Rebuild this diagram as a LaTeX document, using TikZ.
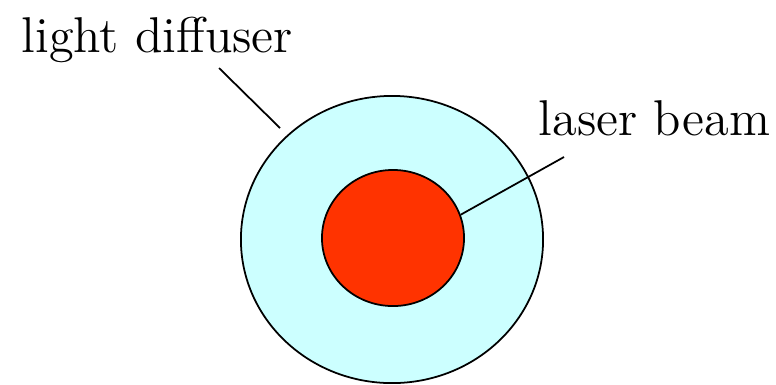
\documentclass[tikz,border=0pt]{standalone}
\usetikzlibrary{shapes.geometric}
\definecolor{diffcyan}{HTML}{CCFFFF}
\definecolor{beamred}{HTML}{FF3300}
\begin{document}
\begin{tikzpicture}[x=0.01cm, y=-0.01cm,
    diffuser/.style={ellipse, draw, line width=0.5pt, fill=diffcyan, inner sep=0pt},
    beamspot/.style={ellipse, draw, line width=0.5pt, fill=beamred, inner sep=0pt},
    lbl/.style={anchor=base west, inner sep=0pt, font=\fontsize{14.3}{17}\selectfont},
    leader/.style={line width=0.5pt}
]
        % Frame: 776 x 384 px
        \useasboundingbox (0,0) rectangle (776,384);

        % Spots
        \node[diffuser, minimum width=3.02cm, minimum height=2.87cm] (diff) at (392,239.5) {};
        \node[beamspot, minimum width=1.42cm, minimum height=1.36cm] (beam) at (393,238) {};

        % Labels
        \node[lbl] (difflbl) at (21,52) {light diffuser};
        \node[lbl] (beamlbl) at (538,135) {laser beam};

        % Leaders
        \coordinate (difftail) at (219,68);
        \coordinate (diffhead) at (280,128);
        \coordinate (beamtail) at (564,157);
        \draw[leader] (difftail) -- (diffhead);
        \draw[leader] (beamtail) -- (beam.19);
\end{tikzpicture}
\end{document}
